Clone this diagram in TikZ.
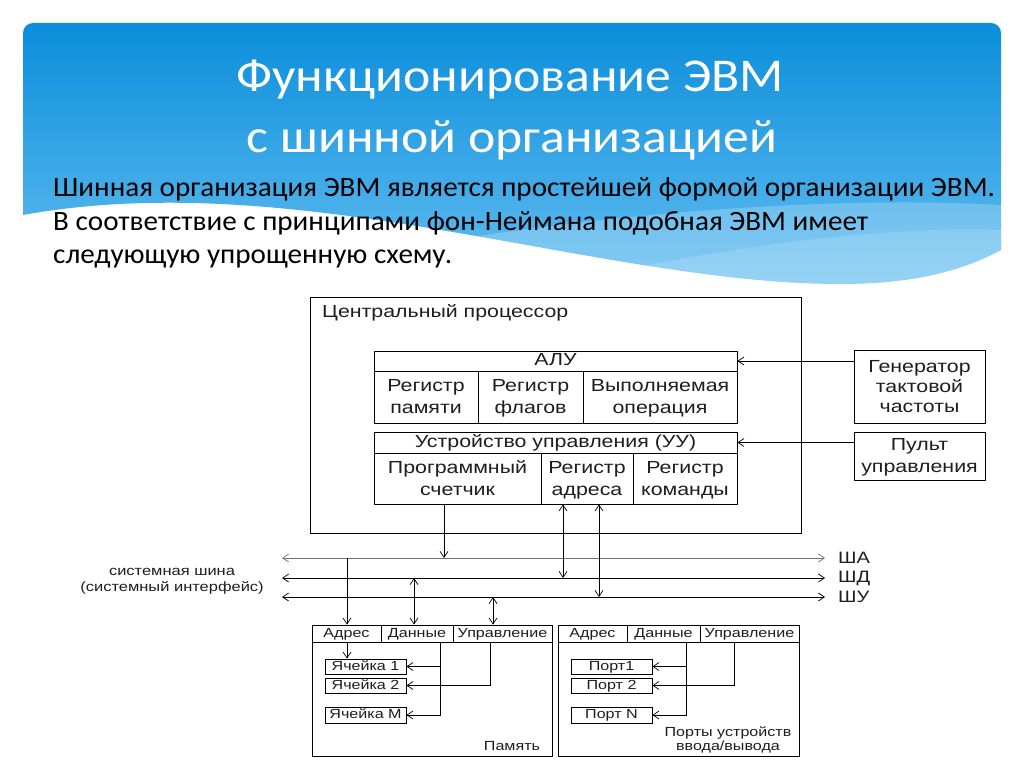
\documentclass[tikz,border=0pt]{standalone}
\usepackage{fontspec}
\setmainfont{Carlito}
\newfontfamily\dg[FakeStretch=1.22]{Liberation Sans}
\newfontfamily\ttl[FakeStretch=1.1]{Carlito}
\newfontfamily\bdy[FakeStretch=1.04]{Carlito}
\usetikzlibrary{arrows.meta,calc}
\definecolor{bTop}{HTML}{0B8EDB}
\definecolor{bBot}{HTML}{62BDF0}
\definecolor{ink}{HTML}{1E1E1E}
\newcommand\zs{\rule[-5pt]{0pt}{21pt}}
\newcommand\zss{\rule[-3.5pt]{0pt}{14.5pt}}
\tikzset{
  barb/.tip={Straight Barb[length=6pt,width=8pt,line width=0.7pt]},
  ln/.style={draw=black,line width=0.8pt},
  arr/.style={ln,-barb},
  biarr/.style={ln,barb-barb},
  boxst/.style={draw=black,line width=0.8pt,inner sep=0pt,text=ink,align=center},
  cellt/.style={font=\dg\fontsize{17.5}{20}\selectfont},
  smallt/.style={font=\dg\fontsize{13.2}{14}\selectfont},
  lbl/.style={text=ink,inner sep=0pt},
}
\begin{document}
\begin{tikzpicture}[x=1pt,y=-1pt]
\useasboundingbox[fill=white] (0,0) rectangle (1024,767);
% banner
\shade[top color=bTop,bottom color=bBot]
  (23,215) -- (23,33) .. controls (23,27.5) and (27.5,23) .. (33,23)
  -- (991,23) .. controls (996.5,23) and (1001,27.5) .. (1001,33)
  -- (1001,250) .. controls (960,272) and (910,284) .. (840,284)
  .. controls (600,284) and (300,165) .. (23,215) -- cycle;
\fill[white,opacity=0.22]
  (330,262) .. controls (560,215) and (820,195) .. (1001,205)
  -- (1001,250) .. controls (960,272) and (910,284) .. (840,284)
  .. controls (640,284) and (470,262) .. (330,262) -- cycle;
\fill[white,opacity=0.15]
  (560,284) .. controls (700,250) and (880,225) .. (1001,230)
  -- (1001,250) .. controls (960,272) and (910,284) .. (840,284)
  .. controls (740,284) and (640,286) .. (560,284) -- cycle;
% title
\node[text=white,anchor=base,inner sep=0pt,font=\ttl\fontsize{47}{50}\selectfont] (t1) at (510,92) {Функционирование ЭВМ};
\node[text=white,anchor=base,inner sep=0pt,font=\ttl\fontsize{47}{50}\selectfont] (t2) at (512,153) {с шинной организацией};
% body
\node[text=black,anchor=base west,inner sep=0pt,font=\bdy\fontsize{28}{33}\selectfont] (b1) at (53,197) {Шинная организация ЭВМ является простейшей формой организации ЭВМ.};
\node[text=black,anchor=base west,inner sep=0pt,font=\bdy\fontsize{28}{33}\selectfont] (b2) at (53,230) {В соответствие с принципами фон-Неймана подобная ЭВМ имеет};
\node[text=black,anchor=base west,inner sep=0pt,font=\bdy\fontsize{28}{33}\selectfont] (b3) at (53,263) {следующую упрощенную схему.};
% CPU
\node[boxst,minimum width=491pt,minimum height=236pt] (cpu) at (555.5,415) {};
\node[lbl,cellt,anchor=base west] (cpul) at (322,317) {Центральный процессор};
\node[boxst,cellt,minimum width=363pt,minimum height=20pt] (aluh) at (555.5,361) {\zss АЛУ};
\node[boxst,cellt,minimum width=104pt,minimum height=52pt] (a1) at (426,397) {\zs Регистр\\памяти\zs};
\node[boxst,cellt,minimum width=105pt,minimum height=52pt] (a2) at (530.5,397) {\zs Регистр\\флагов\zs};
\node[boxst,cellt,minimum width=154pt,minimum height=52pt] (a3) at (660,397) {\zs Выполняемая\\операция\zs};
\node[boxst,cellt,minimum width=363pt,minimum height=21pt] (uuh) at (555.5,442.5) {\zss Устройство управления (УУ)};
\node[boxst,cellt,minimum width=167pt,minimum height=51pt] (d1) at (457.5,478.5) {\zs Программный\\счетчик\zs};
\node[boxst,cellt,minimum width=92pt,minimum height=51pt] (d2) at (587,478.5) {\zs Регистр\\адреса\zs};
\node[boxst,cellt,minimum width=104pt,minimum height=51pt] (d3) at (685,478.5) {\zs Регистр\\команды\zs};
\node[boxst,cellt,minimum width=131pt,minimum height=73pt] (gen) at (919.5,386.5) {\zs Генератор\\тактовой\\частоты\zs};
\node[boxst,cellt,minimum width=131pt,minimum height=48pt] (pult) at (919.5,456) {\zs Пульт\\управления\zs};
\draw[arr] (aluh.east -| gen.west) -- (aluh.east);
\draw[arr] (uuh.east -| pult.west) -- (uuh.east);
% buses
\coordinate (bAl) at (282,558); \coordinate (bAr) at (825,558);
\coordinate (bDl) at (282,578); \coordinate (bDr) at (825,578);
\coordinate (bUl) at (282,597); \coordinate (bUr) at (825,597);
\draw[biarr,draw=black!55] (bAl) -- (bAr);
\draw[biarr] (bDl) -- (bDr);
\draw[biarr] (bUl) -- (bUr);
\node[lbl,font=\dg\fontsize{16.5}{18}\selectfont,anchor=west] (lA) at (838,558) {ША};
\node[lbl,font=\dg\fontsize{16.5}{18}\selectfont,anchor=west] (lD) at (838,578) {ШД};
\node[lbl,font=\dg\fontsize{16.5}{18}\selectfont,anchor=west] (lU) at (838,597) {ШУ};
\node[lbl,font=\dg\fontsize{13.5}{16}\selectfont,align=center] (busl) at (172,581) {системная шина\\(системный интерфейс)};
% CPU to bus
\coordinate (v1) at (444,558);
\coordinate (v2) at (563,578);
\coordinate (v3) at (599,597);
\draw[arr] (d1.south -| v1) -- (v1);
\draw[biarr] (d2.south -| v2) -- (v2);
\draw[biarr] (d2.south -| v3) -- (v3);
% memory
\node[boxst,minimum width=240pt,minimum height=131pt] (mem) at (432,690.5) {};
\node[boxst,smallt,minimum width=69pt,minimum height=17pt] (mh1) at (346.5,633.5) {\zss Адрес};
\node[boxst,smallt,minimum width=72pt,minimum height=17pt] (mh2) at (417,633.5) {\zss Данные};
\node[boxst,smallt,minimum width=99pt,minimum height=17pt] (mh3) at (502.5,633.5) {\zss Управление};
\node[boxst,smallt,minimum width=81pt,minimum height=15pt] (c1) at (365.5,666.5) {\zss Ячейка 1};
\node[boxst,smallt,minimum width=81pt,minimum height=15pt] (c2) at (365.5,685.5) {\zss Ячейка 2};
\node[boxst,smallt,minimum width=81pt,minimum height=16pt] (cM) at (365.5,715) {\zss Ячейка M};
\node[lbl,smallt] (meml) at (512,746) {Память};
\coordinate (m1) at (347,558);
\coordinate (m2) at (414,578);
\coordinate (m3) at (493,597);
\draw[arr] (m1) -- (mh1.north -| m1);
\draw[biarr] (m2) -- (mh2.north -| m2);
\draw[biarr] (m3) -- (mh3.north -| m3);
\coordinate (mx) at (440,0);
\coordinate (my) at (490,0);
\draw[arr] (mh1.south -| m1) -- (c1.north -| m1);
\draw[arr] (mh2.south -| mx) |- (cM.east);
\draw[arr] (c1.east -| mx) -- (c1.east);
\draw[arr] (mh3.south -| my) |- (c2.east);
% IO
\node[boxst,minimum width=241pt,minimum height=131pt] (io) at (678.5,690.5) {};
\node[boxst,smallt,minimum width=69pt,minimum height=17pt] (ih1) at (592.5,633.5) {\zss Адрес};
\node[boxst,smallt,minimum width=73pt,minimum height=17pt] (ih2) at (663.5,633.5) {\zss Данные};
\node[boxst,smallt,minimum width=99pt,minimum height=17pt] (ih3) at (749.5,633.5) {\zss Управление};
\node[boxst,smallt,minimum width=81pt,minimum height=15pt] (p1) at (611.5,666.5) {\zss Порт1};
\node[boxst,smallt,minimum width=81pt,minimum height=15pt] (p2) at (611.5,685.5) {\zss Порт 2};
\node[boxst,smallt,minimum width=81pt,minimum height=16pt] (pN) at (611.5,715) {\zss Порт N};
\node[lbl,smallt,align=center] (iol) at (728,740) {Порты устройств\\ввода/вывода};
\coordinate (ix) at (686,0);
\coordinate (iy) at (734,0);
\draw[arr] (ih2.south -| ix) |- (pN.east);
\draw[arr] (p1.east -| ix) -- (p1.east);
\draw[arr] (ih3.south -| iy) |- (p2.east);
\end{tikzpicture}
\end{document}
